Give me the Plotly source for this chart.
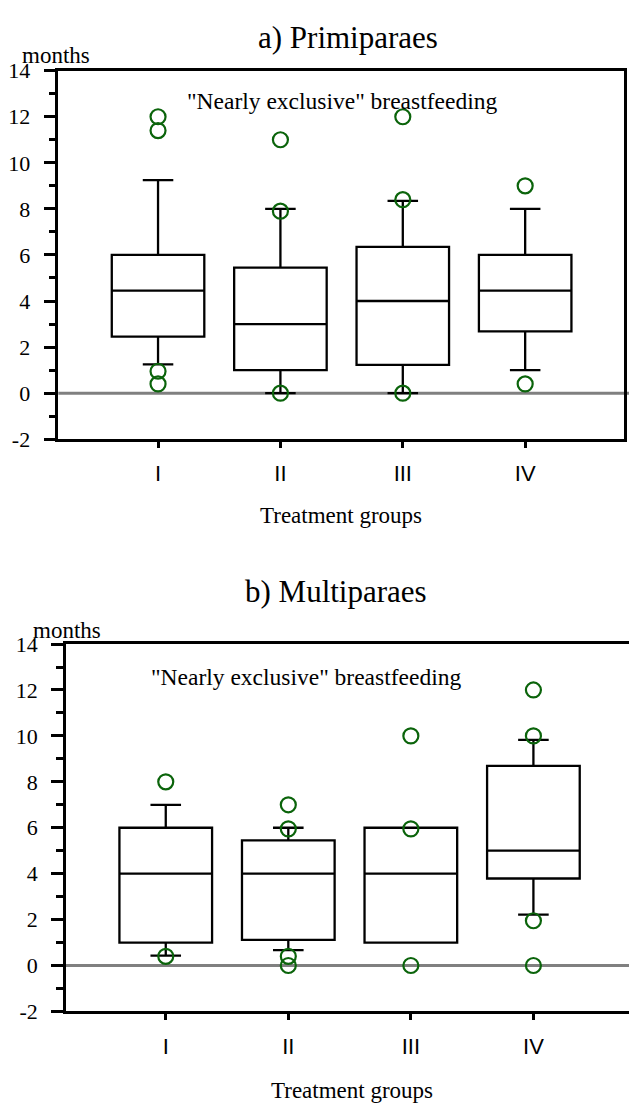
import plotly.graph_objects as go

W, H = 629, 1118

# ---------------- data ----------------
groups = ["I", "II", "III", "IV"]

# a) Primiparaes
prim_q1 = [2.45, 1.0, 1.23, 2.68]
prim_median = [4.45, 3.0, 4.0, 4.45]
prim_q3 = [6.0, 5.45, 6.35, 6.0]
prim_lower = [1.25, 0.0, 0.0, 1.0]
prim_upper = [9.25, 8.0, 8.35, 8.0]
prim_out_group = ["I", "I", "I", "I", "II", "II", "II", "III", "III", "III", "IV", "IV"]
prim_out_value = [12.0, 11.4, 0.95, 0.4, 11.0, 7.9, 0.0, 12.0, 8.4, 0.0, 9.0, 0.4]

# b) Multiparaes
multi_q1 = [1.0, 1.12, 1.0, 3.79]
multi_median = [4.0, 4.0, 4.0, 5.0]
multi_q3 = [6.0, 5.45, 6.0, 8.69]
multi_lower = [0.43, 0.67, 1.0, 2.22]
multi_upper = [7.0, 6.0, 6.0, 9.83]
multi_out_group = ["I", "I", "II", "II", "II", "II", "III", "III", "III", "IV", "IV", "IV", "IV"]
multi_out_value = [8.0, 0.4, 7.0, 5.95, 0.4, 0.0, 10.0, 5.95, 0.0, 12.0, 10.0, 1.95, 0.0]

y_tickvals = [-2, 0, 2, 4, 6, 8, 10, 12, 14]
y_ticktext = ["-2", "0", "2", "4", "6", "8", "10", "12", "14"]

# ---------------- style ----------------
SERIF = "Liberation Serif, Times New Roman, serif"
SANS = "Liberation Sans, Arial, sans-serif"
GREEN = "#0b640b"


def py(p):
    return 1 - p / H


def px(p):
    return p / W


fig = go.Figure()

box_common = dict(
    boxpoints=False,
    fillcolor="white",
    line=dict(color="black", width=2.3),
    whiskerwidth=0.33,
    width=0.756,
    showlegend=False,
    hoverinfo="skip",
)

marker_style = dict(symbol="circle-open", size=15, color=GREEN,
                    line=dict(width=2.2, color=GREEN))

fig.add_trace(go.Box(x=groups, q1=prim_q1, median=prim_median, q3=prim_q3,
                     lowerfence=prim_lower, upperfence=prim_upper,
                     xaxis="x", yaxis="y", **box_common))
fig.add_trace(go.Scatter(x=prim_out_group, y=prim_out_value, mode="markers",
                         marker=marker_style, showlegend=False, hoverinfo="skip",
                         xaxis="x", yaxis="y"))

fig.add_trace(go.Box(x=groups, q1=multi_q1, median=multi_median, q3=multi_q3,
                     lowerfence=multi_lower, upperfence=multi_upper,
                     xaxis="x2", yaxis="y2", **box_common))
fig.add_trace(go.Scatter(x=multi_out_group, y=multi_out_value, mode="markers",
                         marker=marker_style, showlegend=False, hoverinfo="skip",
                         xaxis="x2", yaxis="y2"))

xcommon = dict(
    type="category",
    categoryorder="array",
    categoryarray=groups,
    showline=True, linecolor="black", linewidth=2.5,
    mirror=True,
    ticks="outside", ticklen=6, tickwidth=2.5, tickcolor="black",
    tickfont=dict(family=SANS, size=22, color="black"),
    showgrid=False, zeroline=False, fixedrange=True,
    ticklabelstandoff=7,
)
ycommon = dict(
    range=[-2, 14],
    tickvals=y_tickvals, ticktext=y_ticktext,
    showline=True, linecolor="black", linewidth=2.5,
    ticks="outside", ticklen=12, tickwidth=2.5, tickcolor="black",
    minor=dict(dtick=1, tick0=0, ticks="outside", ticklen=7, tickwidth=2.5, tickcolor="black"),
    tickfont=dict(family=SERIF, size=22, color="black"),
    showgrid=False, zeroline=False, fixedrange=True,
    ticklabelstandoff=9,
)

top_dom = [py(437), py(60)]
bot_dom = [py(1022.3), py(646.5)]

fig.update_layout(
    width=W, height=H,
    margin=dict(l=0, r=0, t=0, b=0),
    paper_bgcolor="white", plot_bgcolor="white",
    font=dict(family=SERIF, color="black"),
    xaxis=dict(domain=[px(58.3), px(624.3)], range=[-0.815, 3.81], anchor="y", **xcommon),
    yaxis=dict(domain=top_dom, anchor="x", mirror=True, **ycommon),
    xaxis2=dict(domain=[px(66), 1.0], range=[-0.814, 3.78], anchor="y2", **xcommon),
    yaxis2=dict(domain=bot_dom, anchor="x2", mirror=False, **ycommon),
)

# zero reference lines
fig.add_shape(type="line", xref="paper", yref="y", x0=px(58.3), x1=1.0, y0=0, y1=0,
              line=dict(color="#808080", width=3), layer="below")
fig.add_shape(type="line", xref="paper", yref="y2", x0=px(66), x1=1.0, y0=0, y1=0,
              line=dict(color="#808080", width=3), layer="below")

ann = [
    ("a) Primiparaes", 348, 26, 31),
    ("months", 56, 44, 23),
    ("\"Nearly exclusive\" breastfeeding", 342, 91, 23.5),
    ("Treatment groups", 341, 515, 23),
    ("b) Multiparaes", 336, 593, 31),
    ("months", 67, 633, 23),
    ("\"Nearly exclusive\" breastfeeding", 306, 680, 23.5),
    ("Treatment groups", 352, 1103, 23),
]
for text, x, y, s in ann:
    fig.add_annotation(text=text, x=px(x), y=py(y), xref="paper", yref="paper",
                       xanchor="center", yanchor="middle", showarrow=False,
                       font=dict(family=SERIF, size=s, color="black"))

fig.write_html("out.html")
